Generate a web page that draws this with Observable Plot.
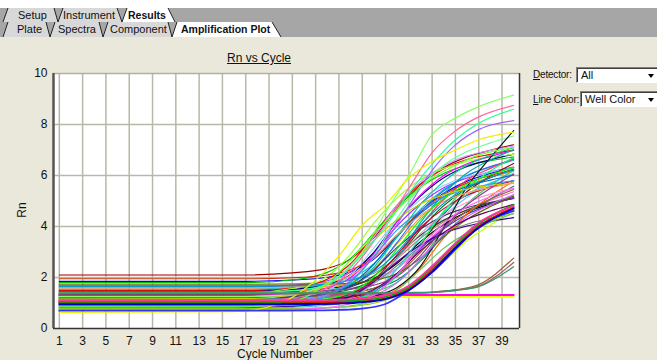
<!DOCTYPE html>
<html><head><meta charset="utf-8">
<script src="https://cdn.jsdelivr.net/npm/d3@7"></script>
<script src="https://cdn.jsdelivr.net/npm/@observablehq/plot@0.6"></script>
<style>
html,body{margin:0;padding:0}
body{width:657px;height:360px;overflow:hidden;background:#EAE8DA;font-family:"Liberation Sans",Arial,sans-serif;position:relative;color:#111}
.abs{position:absolute;white-space:nowrap}
#chart{position:absolute;left:0;top:40px}
.lbl{font-size:10px;letter-spacing:-0.2px}
.box{position:absolute;background:#fff;border-top:1px solid #808080;border-left:1px solid #808080;border-bottom:1px solid #fff;border-right:1px solid #fff;box-shadow:inset 1px 1px 0 #404040;font-size:11px;padding-left:4px;line-height:15px;box-sizing:border-box}
.arrow{position:absolute;top:6px;width:0;height:0;border-left:3px solid transparent;border-right:3px solid transparent;border-top:4px solid #000}
</style>
</head><body>
<svg class="abs" width="657" height="38" style="left:0;top:0" font-family="Liberation Sans, Arial, sans-serif">
  <rect x="0" y="0" width="657" height="8" fill="#ffffff"/>
  <rect x="0" y="8" width="657" height="29" fill="#a6a6a6"/>
  <polygon points="3,22 8,8 54,8 58,22" fill="#d8d8d8"/>
  <polygon points="58,22 63,8 117,8 122,22" fill="#d8d8d8"/>
  <polygon points="122,22 127,8 168,8 175,22" fill="#ffffff"/>
  <path d="M3,22L8,8 M54,8L58,22L63,8 M117,8L122,22L127,8 M168,8L175,22" stroke="#222" fill="none"/>
  <polygon points="3,37 8,22 46,22 50,37" fill="#d8d8d8"/>
  <polygon points="50,37 55,22 99,22 103,37" fill="#d8d8d8"/>
  <polygon points="103,37 108,22 168,22 172,37" fill="#d8d8d8"/>
  <polygon points="172,37 177,22 272,22 281,37" fill="#ffffff"/>
  <path d="M3,37L8,22 M46,22L50,37L55,22 M99,22L103,37L108,22 M168,22L172,37L177,22 M272,22L281,37" stroke="#222" fill="none"/>
  <g font-size="11px" fill="#111">
    <text x="18" y="19">Setup</text>
    <text x="63" y="19">Instrument</text>
    <text x="128" y="19" font-weight="bold" font-size="10.5px">Results</text>
    <text x="17" y="33">Plate</text>
    <text x="58" y="33">Spectra</text>
    <text x="110" y="33">Component</text>
    <text x="181" y="33" font-weight="bold" font-size="10.5px">Amplification Plot</text>
  </g>
</svg>
<div id="chart"></div>
<div class="abs" style="left:227px;top:51px;font-size:12px;text-decoration:underline">Rn vs Cycle</div>
<div class="abs" style="left:22px;top:210px;font-size:12px;transform:translate(-50%,-50%) rotate(-90deg)">Rn</div>
<div class="abs" style="left:275px;top:354px;font-size:12px;transform:translate(-50%,-50%)">Cycle Number</div>
<div class="abs lbl" style="left:533px;top:69px"><u>D</u>etector:</div>
<div class="box" style="left:576px;top:67px;width:90px;height:16px">All<div class="arrow" style="right:11px"></div></div>
<div class="abs lbl" style="left:533px;top:94px"><u>L</u>ine Color:</div>
<div class="box" style="left:580px;top:91px;width:86px;height:16px">Well Color<div class="arrow" style="right:11px"></div></div>
<script>
// Sampled cycles (x) for the wells' Rn series
const cycles = [1, 16, 20, 23, 25, 27, 29, 31, 33, 35, 37, 40];
const mainCycles = [1, 17, 21, 24, 26, 28, 30, 32, 34, 36, 38, 40];
const xTicks = [1,3,5,7,9,11,13,15,17,19,21,23,25,27,29,31,33,35,37,39];
const yTicks = [0, 2, 4, 6, 8, 10];

// Bulk amplifying wells (sampled at mainCycles)
const mainWells = [
  [2.10,2.10,2.18,2.36,2.72,3.56,4.70,5.64,6.31,6.73,6.99,7.20],
  [1.85,1.85,1.90,2.01,2.22,2.72,3.64,4.61,5.30,5.78,6.08,6.31],
  [1.80,1.80,1.90,2.20,2.75,3.75,4.80,5.55,6.08,6.40,6.58,6.73],
  [1.74,1.74,1.76,1.81,1.92,2.17,2.75,3.54,4.19,4.66,4.94,5.18],
  [1.63,1.63,1.70,1.87,2.21,2.97,4.03,4.89,5.52,5.90,6.14,6.33],
  [1.60,1.60,1.60,1.66,1.74,1.92,2.36,3.16,4.00,4.60,5.02,5.36],
  [1.55,1.55,1.60,1.73,1.97,2.54,3.58,4.67,5.45,6.00,6.33,6.59],
  [1.50,1.50,1.52,1.58,1.69,1.96,2.56,3.40,4.08,4.58,4.88,5.13],
  [1.48,1.48,1.59,1.93,2.54,3.66,4.84,5.68,6.27,6.63,6.83,7.00],
  [1.45,1.45,1.53,1.73,2.11,2.99,4.20,5.19,5.91,6.35,6.62,6.84],
  [1.42,1.42,1.47,1.59,1.81,2.35,3.33,4.36,5.10,5.61,5.93,6.17],
  [1.40,1.40,1.40,1.48,1.58,1.80,2.35,3.35,4.40,5.15,5.68,6.10],
  [1.38,1.41,1.57,2.04,2.92,4.13,5.12,5.84,6.28,6.55,6.72,6.83],
  [1.35,1.35,1.35,1.40,1.44,1.58,1.90,2.64,3.65,4.48,5.08,5.58],
  [1.32,1.32,1.36,1.46,1.63,2.06,2.84,3.66,4.25,4.65,4.91,5.10],
  [1.30,1.30,1.39,1.59,2.00,2.92,4.20,5.24,6.00,6.46,6.75,6.98],
  [1.28,1.28,1.31,1.38,1.54,1.90,2.74,3.88,4.82,5.49,5.91,6.25],
  [1.25,1.25,1.37,1.73,2.39,3.59,4.85,5.75,6.38,6.77,6.98,7.16],
  [1.22,1.22,1.22,1.29,1.38,1.58,2.08,2.98,3.92,4.60,5.07,5.45],
  [1.20,1.20,1.26,1.40,1.65,2.26,3.38,4.56,5.40,5.99,6.35,6.63],
  [1.18,1.18,1.24,1.38,1.66,2.30,3.18,3.90,4.42,4.74,4.94,5.10],
  [1.15,1.15,1.15,1.21,1.26,1.43,1.81,2.69,3.90,4.89,5.61,6.21],
  [1.12,1.12,1.15,1.24,1.41,1.82,2.74,4.02,5.06,5.82,6.28,6.66],
  [1.10,1.10,1.14,1.22,1.38,1.77,2.47,3.20,3.73,4.09,4.32,4.50],
  [1.08,1.08,1.19,1.50,2.09,3.15,4.26,5.06,5.61,5.96,6.14,6.30],
  [1.05,1.05,1.05,1.07,1.11,1.19,1.37,1.81,2.61,3.45,4.05,4.61],
  [1.02,1.02,1.02,1.11,1.22,1.48,2.12,3.28,4.50,5.37,5.98,6.47],
  [1.00,1.00,1.03,1.13,1.32,1.76,2.76,4.15,5.28,6.10,6.61,7.02],
  [0.98,0.98,1.08,1.32,1.78,2.86,4.33,5.54,6.41,6.94,7.28,7.55],
  [0.95,0.95,1.00,1.13,1.35,1.90,2.90,3.95,4.70,5.23,5.55,5.80],
  [0.92,0.92,0.94,1.01,1.14,1.45,2.15,3.12,3.91,4.48,4.84,5.12],
  [0.90,0.90,0.90,0.95,1.01,1.17,1.54,2.38,3.55,4.50,5.19,5.78],
  [0.88,0.88,0.88,0.97,1.10,1.38,2.06,3.30,4.60,5.53,6.18,6.71],
  [0.85,0.85,0.90,1.02,1.23,1.76,2.72,3.73,4.45,4.95,5.27,5.51],
  [0.82,0.82,0.87,1.00,1.25,1.83,2.62,3.27,3.74,4.02,4.20,4.35],
  [0.80,0.80,0.83,0.91,1.08,1.46,2.34,3.55,4.54,5.26,5.70,6.05],
  [0.78,0.78,0.78,0.82,0.86,0.99,1.28,1.96,2.88,3.64,4.18,4.64],
  [1.00,1.00,1.00,1.04,1.11,1.27,1.61,2.44,3.96,5.56,6.70,7.76],
  [0.75,0.75,0.75,0.81,0.89,1.07,1.51,2.31,3.15,3.75,4.17,4.51],
  [1.70,1.70,1.70,1.74,1.78,1.89,2.16,2.76,3.60,4.28,4.78,5.20],
  [1.95,1.95,1.99,2.10,2.30,2.79,3.67,4.59,5.25,5.71,6.00,6.22],
  [1.12,1.12,1.20,1.37,1.72,2.52,3.62,4.52,5.17,5.57,5.82,6.02],
  [0.93,0.93,0.93,1.00,1.09,1.30,1.80,2.72,3.69,4.38,4.86,5.25],
  [1.27,1.27,1.33,1.48,1.75,2.41,3.61,4.87,5.77,6.40,6.79,7.09],
  [1.05,1.05,1.07,1.13,1.25,1.53,2.17,3.05,3.77,4.29,4.61,4.87],
  [1.58,1.58,1.64,1.79,2.08,2.76,3.68,4.44,4.98,5.32,5.53,5.70],
  [0.87,0.87,0.97,1.27,1.82,2.82,3.87,4.62,5.15,5.47,5.65,5.80],
  [1.45,1.45,1.45,1.50,1.55,1.70,2.05,2.85,3.95,4.85,5.50,6.05],
  [0.97,0.97,1.03,1.16,1.41,2.02,3.12,4.27,5.10,5.67,6.03,6.31],
  [1.65,1.65,1.67,1.75,1.89,2.23,2.99,4.05,4.91,5.54,5.92,6.23],
  [1.15,1.17,1.31,1.70,2.44,3.45,4.28,4.88,5.24,5.47,5.61,5.70],
  [0.72,0.72,0.75,0.82,0.97,1.32,2.12,3.22,4.12,4.77,5.17,5.50]
];
const mainColors = ["#a00000","#0000ff","#00c000","#999966","#9933ff","#ff66cc","#00cccc","#000000",
  "#ff0000","#000080","#ff9900","#66ccff","#99ff33","#008080","#333333","#ff00ff","#006600","#cc99ff",
  "#996633","#3366ff","#333366","#33cc66","#ff3366","#808080","#99ccff","#ccff00","#800000","#00aaaa",
  "#66ff99","#cc0033","#6633cc","#ff6600","#00ff66","#ff99cc","#330099","#33cccc","#99cc00","#111111",
  "#66cc66","#666600","#cc3300","#0066cc","#cc66ff","#00cc99","#660066","#ff9966","#3399ff","#993399",
  "#00ff00","#0099cc","#cccc00","#ff66ff"];

// Early, high-plateau wells
const earlyWells = [
  [1.25,1.25,1.30,1.55,2.05,3.00,4.55,6.00,7.60,8.25,8.70,9.15],
  [1.10,1.10,1.15,1.40,1.85,2.80,4.10,5.50,6.90,7.75,8.30,8.75],
  [1.40,1.40,1.45,1.60,2.00,2.90,4.00,5.30,6.45,7.40,8.05,8.60],
  [1.00,1.00,1.05,1.20,1.55,2.30,3.40,4.80,6.20,7.20,7.80,8.15],
  [0.63,0.66,1.00,1.90,2.85,4.05,4.85,5.90,6.55,7.00,7.40,7.70],
  [0.85,0.85,0.95,1.45,2.20,3.20,4.20,5.10,5.90,6.40,6.80,7.10]
];
const earlyColors = ["#88ff66","#ff6699","#33ff99","#9966ff","#eeee00","#66ff33"];

// Late-rising wells
const lateWells = [
  [0.70,0.70,0.70,0.71,0.73,0.78,0.96,1.50,2.20,3.10,4.00,4.60],
  [1.00,1.00,1.00,1.00,1.02,1.06,1.18,1.55,2.30,3.20,4.00,4.75],
  [1.05,1.05,1.05,1.06,1.08,1.12,1.25,1.62,2.40,3.30,4.10,4.85],
  [0.95,0.95,0.95,0.96,0.98,1.03,1.15,1.50,2.22,3.15,3.95,4.70],
  [1.10,1.10,1.10,1.11,1.13,1.18,1.30,1.68,2.45,3.35,4.15,4.80]
];
const lateColors = ["#3333ff","#ff0000","#00aa00","#0000cc","#ff3399"];

// Very late wells
const veryLateWells = [
  [1.38,1.38,1.38,1.38,1.38,1.38,1.39,1.40,1.43,1.52,1.72,2.76],
  [1.36,1.36,1.36,1.36,1.36,1.36,1.37,1.38,1.41,1.49,1.66,2.59],
  [1.40,1.40,1.40,1.40,1.40,1.40,1.40,1.41,1.43,1.50,1.64,2.42]
];
const veryLateColors = ["#996633","#aa5577","#339966"];

// Non-amplifying wells
const flatWells = [
  [1.24,1.24,1.24,1.24,1.24,1.24,1.24,1.24,1.24,1.24,1.24,1.24],
  [1.31,1.31,1.31,1.31,1.31,1.31,1.31,1.31,1.31,1.31,1.31,1.31]
];
const flatColors = ["#ffff00","#ff00ff"];

function toRows(group, values, colors, xs) {
  return values.flatMap((vals, i) => vals.map((v, j) => ({well: group + i, cycle: xs[j], rn: v, color: colors[i]})));
}
const lineOpts = (w) => ({x: "cycle", y: "rn", z: "well", stroke: "color", strokeWidth: w, curve: "monotone-x"});

const chart = Plot.plot({
  width: 530, height: 320,
  marginLeft: 53, marginRight: 11, marginTop: 33, marginBottom: 32,
  style: {fontFamily: "Liberation Sans, Arial, sans-serif", fontSize: "12px", color: "#111", background: "transparent"},
  x: {domain: [0.5, 40.5]},
  y: {domain: [0, 10]},
  color: {type: "identity"},
  marks: [
    Plot.frame({fill: "#ffffff", stroke: null}),
    Plot.gridX(xTicks, {stroke: "#b8b8a6", strokeOpacity: 1, strokeWidth: 1.5}),
    Plot.gridY([2, 4, 6, 8], {stroke: "#b8b8a6", strokeOpacity: 1, strokeWidth: 1.5}),
    Plot.ruleY([10], {stroke: "#b0b0a0", strokeWidth: 1.5}),
    Plot.line(toRows("f", flatWells, flatColors, cycles), lineOpts(2)),
    Plot.line(toRows("m", mainWells, mainColors, mainCycles), lineOpts(1.15)),
    Plot.line(toRows("e", earlyWells, earlyColors, cycles), lineOpts(1.2)),
    Plot.line(toRows("v", veryLateWells, veryLateColors, cycles), lineOpts(1.3)),
    Plot.line(toRows("l", lateWells, lateColors, cycles), lineOpts(1.8)),
    Plot.ruleX([0.5], {stroke: "#555555", strokeWidth: 2.5}),
    Plot.ruleX([40.5], {stroke: "#333333", strokeWidth: 1.5}),
    Plot.ruleY([0], {stroke: "#333333", strokeWidth: 1.5}),
    Plot.axisX(xTicks, {tickSize: 0, tickPadding: 8, label: null, fontSize: 12}),
    Plot.axisY(yTicks, {tickSize: 0, tickPadding: 6, label: null, fontSize: 12})
  ]
});
document.getElementById("chart").appendChild(chart);
</script>
</body></html>
